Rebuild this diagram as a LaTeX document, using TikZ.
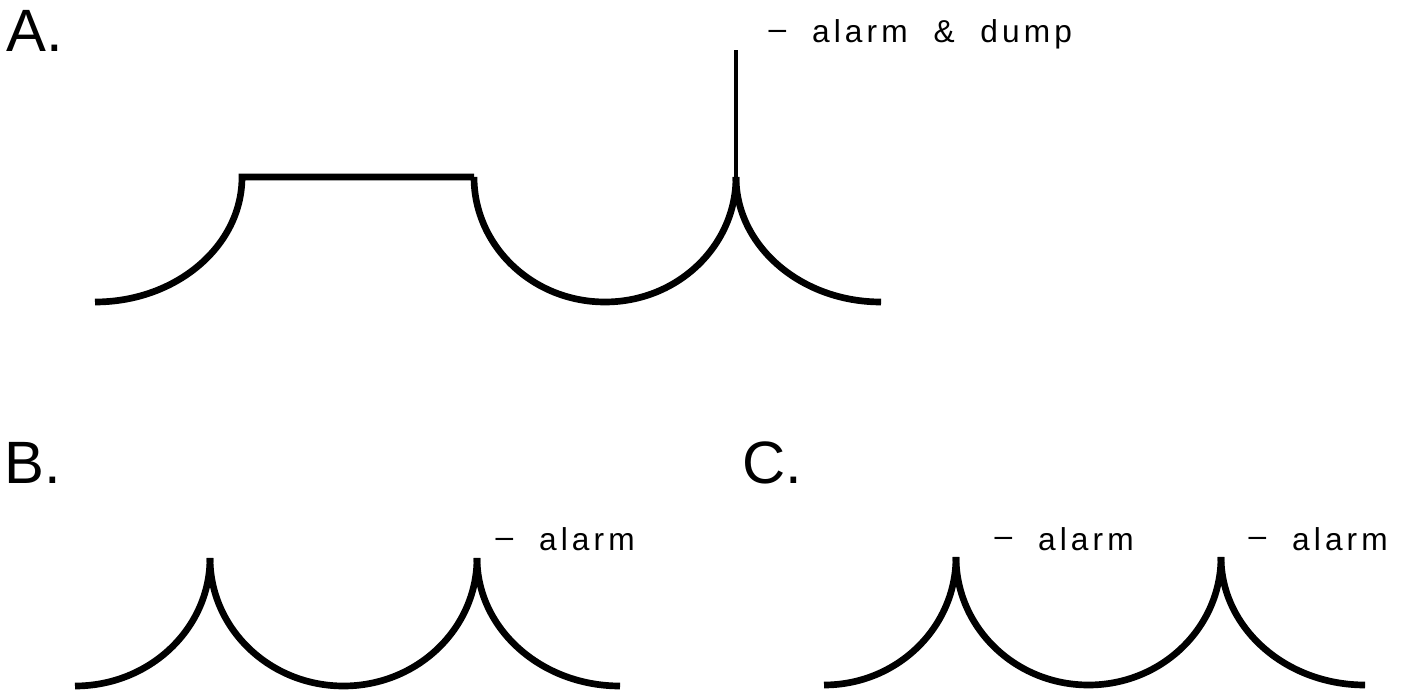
\documentclass[tikz,border=0pt]{standalone}
\usepackage{fontspec}
\setmainfont{Liberation Sans}
\newfontfamily\tagfamily[LetterSpace=13,WordSpace=2]{Liberation Sans}
\newcommand\tagdash{\raisebox{0.03cm}{\textendash}}

\begin{document}
\begin{tikzpicture}[x=0.01cm,y=0.01cm,
  crv/.style={line width=1.9pt},
  stem/.style={line width=1.4pt},
  head/.style={anchor=base west,inner sep=0pt,font=\fontsize{17}{20}\selectfont},
  tag/.style={anchor=base west,inner sep=0pt,font=\tagfamily\fontsize{9}{11}\selectfont}]
  \useasboundingbox (0,0) rectangle (1410,691);

  \node[head] (hA) at (6,639) {A.};
  \node[head] (hB) at (4,208) {B.};
  \node[head] (hC) at (742,207) {C.};

  \draw[crv] (95,389) arc[start angle=-90,end angle=0,x radius=147,y radius=125]
    -- (474,514);
  \draw[crv] (474,514) arc[start angle=180,end angle=360,x radius=131,y radius=125];
  \draw[crv] (736,514) arc[start angle=180,end angle=270,x radius=145,y radius=125];
  \draw[stem] (736,514) -- (736,641);
  \node[tag] (tA) at (768,648) {\tagdash{} alarm \& dump};

  \draw[crv] (75,5) arc[start angle=-90,end angle=0,x radius=135,y radius=128];
  \draw[crv] (210,133) arc[start angle=180,end angle=360,x radius=133.5,y radius=128];
  \draw[crv] (477,133) arc[start angle=180,end angle=270,x radius=143,y radius=128];
  \node[tag] (tB) at (495,140) {\tagdash{} alarm};

  \draw[crv] (824,6) arc[start angle=-90,end angle=0,x radius=132,y radius=128];
  \draw[crv] (956,134) arc[start angle=180,end angle=360,x radius=132.5,y radius=128];
  \draw[crv] (1221,134) arc[start angle=180,end angle=270,x radius=144,y radius=128];
  \node[tag] (tC1) at (994,141) {\tagdash{} alarm};
  \node[tag] (tC2) at (1248,141) {\tagdash{} alarm};
\end{tikzpicture}
\end{document}
